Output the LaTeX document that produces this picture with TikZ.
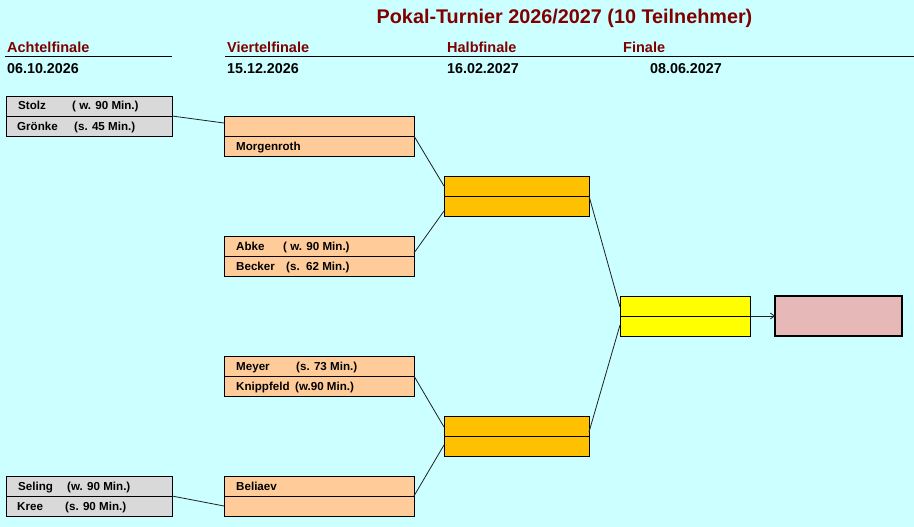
\documentclass[tikz,border=0pt]{standalone}
\usepackage{fontspec}
\setmainfont{Liberation Sans}
\usetikzlibrary{arrows.meta}
\definecolor{bgc}{HTML}{CCFFFF}
\definecolor{titlered}{HTML}{800000}
\definecolor{grayc}{HTML}{D9D9D9}
\definecolor{orangec}{HTML}{FFCC99}
\definecolor{goldc}{HTML}{FFC000}
\definecolor{yellowc}{HTML}{FFFF00}
\definecolor{pinkc}{HTML}{E6B8B7}
\definecolor{linec}{HTML}{202020}
\begin{document}
\begin{tikzpicture}[x=1pt,y=-1pt,
  cell/.style={draw=black, line width=0.9pt, minimum height=20pt, inner sep=0pt, outer sep=0pt, anchor=north west},
  cellg/.style={cell, fill=grayc, minimum width=166pt},
  cello/.style={cell, fill=orangec, minimum width=190pt},
  cellh/.style={cell, fill=goldc, minimum width=145pt},
  cellf/.style={cell, fill=yellowc, minimum width=130pt},
  winbox/.style={draw=black, line width=2pt, fill=pinkc, minimum width=127pt, minimum height=40pt, inner sep=0pt, outer sep=0pt, anchor=north west},
  txt/.style={anchor=base west, inner sep=0pt, font=\bfseries\fontsize{11.6}{13}\selectfont},
  head/.style={anchor=base west, inner sep=0pt, text=titlered, font=\bfseries\fontsize{14.5}{16}\selectfont},
  datetxt/.style={anchor=base west, inner sep=0pt, font=\bfseries\fontsize{14.3}{16}\selectfont},
  conn/.style={draw=linec, line width=0.8pt}]
\useasboundingbox (0,0) rectangle (914,527);
\fill[bgc] (0,0) rectangle (914,527);

% title
\node[anchor=base, inner sep=0pt, text=titlered, font=\bfseries\fontsize{19.8}{22}\selectfont] (title) at (564.5,24) {Pokal-Turnier 2026/2027 (10 Teilnehmer)};

% headers
\node[head] (h8) at (7,53) {Achtelfinale};
\node[head] (h4) at (227,53) {Viertelfinale};
\node[head] (h2) at (447,53) {Halbfinale};
\node[head] (h1) at (623,53) {Finale};
\draw[line width=0.9pt] (5,56.5) -- (172,56.5);
\draw[line width=0.9pt] (225,56.5) -- (914,56.5);
\node[datetxt] (d8) at (7,73.5) {06.10.2026};
\node[datetxt] (d4) at (227,73.5) {15.12.2026};
\node[datetxt] (d2) at (447,73.5) {16.02.2027};
\node[datetxt] (d1) at (650,73.5) {08.06.2027};

% Achtelfinale boxes
\node[cellg] (g1t) at (6,96) {};
\node[cellg] (g1b) at (6,116) {};
\node[cellg] (g2t) at (6,476) {};
\node[cellg] (g2b) at (6,496) {};

% Viertelfinale boxes
\node[cello] (v1t) at (224,116) {};
\node[cello] (v1b) at (224,136) {};
\node[cello] (v2t) at (224,236) {};
\node[cello] (v2b) at (224,256) {};
\node[cello] (v3t) at (224,356) {};
\node[cello] (v3b) at (224,376) {};
\node[cello] (v4t) at (224,476) {};
\node[cello] (v4b) at (224,496) {};

% Halbfinale boxes
\node[cellh] (s1t) at (444,176) {};
\node[cellh] (s1b) at (444,196) {};
\node[cellh] (s2t) at (444,416) {};
\node[cellh] (s2b) at (444,436) {};

% Finale
\node[cellf] (ft) at (620,296) {};
\node[cellf] (fb) at (620,316) {};

% Winner
\node[winbox] (win) at (775,296) {};

% texts
\node[txt] (t1) at (18,110) {Stolz};
\node[txt] (t1r) at (72,110) {( w. 90 Min.)};
\node[txt] (t2) at (17,130) {Grönke};
\node[txt] (t2r) at (74,130) {(s. 45 Min.)};
\node[txt] (t3) at (18,490) {Seling};
\node[txt] (t3r) at (67,490) {(w. 90 Min.)};
\node[txt] (t4) at (17,510) {Kree};
\node[txt] (t4r) at (65,510) {(s. 90 Min.)};
\node[txt] (t5) at (236,150) {Morgenroth};
\node[txt] (t6) at (236,250) {Abke};
\node[txt] (t6r) at (283,250) {( w. 90 Min.)};
\node[txt] (t7) at (236,270) {Becker};
\node[txt] (t7r) at (286,270) {(s.\ \ 62 Min.)};
\node[txt] (t8) at (236,370) {Meyer};
\node[txt] (t8r) at (296,370) {(s. 73 Min.)};
\node[txt] (t9) at (236,390) {Knippfeld};
\node[txt] (t9r) at (295,390) {(w.90 Min.)};
\node[txt] (t10) at (236,490) {Beliaev};

% connectors
\draw[conn] (g1t.south east) -- ([yshift=3pt]v1t.west);
\draw[conn] (g2b.north east) -- (v4b.west);
\draw[conn] (v1b.north east) -- (s1t.west);
\draw[conn] ([yshift=3pt]v2t.south east) -- ([yshift=-5pt]s1b.west);
\draw[conn] (v3b.north east) -- ([yshift=-1pt]s2t.west);
\draw[conn] (v4t.south east) -- ([yshift=1pt]s2b.west);
\draw[conn] (s1b.north east) -- ([yshift=-1pt]ft.west);
\draw[conn] ([yshift=4pt]s2b.north east) -- ([yshift=1pt]fb.west);
\draw[conn, -{Straight Barb[length=4pt,width=6pt]}] (fb.north east) -- (win.west);
\end{tikzpicture}
\end{document}
